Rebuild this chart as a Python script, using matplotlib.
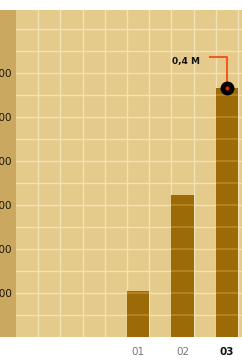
import numpy as np
import matplotlib
matplotlib.use('Agg')
import matplotlib.pyplot as plt
from matplotlib.patches import Rectangle

# data
categories = ['01', '02', '03']
values = [73000, 226000, 396000]
ytick_vals = [70000, 140000, 210000, 280000, 350000, 420000]
ytick_labels = ['70 000', '140 000', '210 000', '280 000', '350 000', '420 000']
peak_label = '0,4 M'

W, H = 242, 364
fig = plt.figure(figsize=(W / 100, H / 100), dpi=100)
fig.patch.set_facecolor('white')

# left strip behind tick labels
fig.patches.append(Rectangle((0, (H - 337) / H), 16 / W, 327 / H,
                             transform=fig.transFigure, facecolor='#caa860',
                             edgecolor='none', zorder=-5))

ax = fig.add_axes([16 / W, (H - 337) / H, 226 / W, 327 / H])
ax.set_zorder(2)
ax.set_facecolor('#e5cb8b')
cell = 35000
ax.set_xlim(0, 226 / 22.2)
ax.set_ylim(0, 327 / 22 * cell)

xpos = np.array([5.5, 7.5, 9.5])

# grid
for gx in np.arange(1, 11):
    ax.axvline(gx, color='#f2e3b6', lw=1.0, zorder=1)
for gy in np.arange(cell, 15 * cell, cell):
    ax.axhline(gy, color='#f2e3b6', lw=1.0, zorder=1)

ax.bar(xpos, values, width=1.0, color='#9c6a06', zorder=2)
# faint grid over the bars
for x, v in zip(xpos, values):
    ys = np.arange(cell, v, cell)
    ax.hlines(ys, x - 0.5, x + 0.5, color='#b98826', lw=1.2, zorder=3)

# peak marker and callout
ax.plot(xpos[-1], values[-1], 'o', ms=9, mfc='black', mec='black', zorder=5,
        clip_on=False)
ax.plot(xpos[-1], values[-1], 'o', ms=3, mfc='#e0201a', mec='none', zorder=6,
        clip_on=False)
ly = values[-1] + 31 * 1591
ax.plot([8.74, xpos[-1], xpos[-1]], [ly, ly, values[-1]], color='#f05a22',
        lw=1.5, zorder=4)
ax.text(8.3, ly - 4 * 1591, peak_label, ha='right', va='center', fontsize=6.5,
        fontweight='bold', color='#111111', zorder=6)

ax.set_yticks(ytick_vals)
ax.set_yticklabels(ytick_labels, fontsize=7.5, color='#1a1508')
ax.set_xticks(xpos)
ax.set_xticklabels(categories, fontsize=7.5, color='#777777')
ax.get_xticklabels()[-1].set_color('#111111')
ax.get_xticklabels()[-1].set_fontweight('bold')
ax.tick_params(axis='both', length=0)
ax.tick_params(axis='y', pad=3)
ax.tick_params(axis='x', pad=7)
for s in ax.spines.values():
    s.set_visible(False)

fig.savefig('out.png', dpi=100)
